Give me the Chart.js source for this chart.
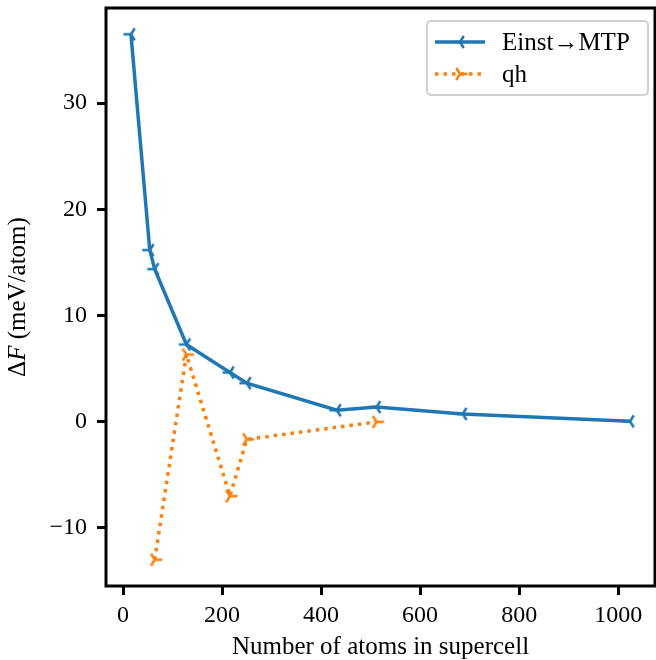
<!DOCTYPE html>
<html>
<head>
<meta charset="utf-8">
<script src="https://cdn.jsdelivr.net/npm/chart.js@4.4.1/dist/chart.umd.min.js"></script>
<style>
  html, body { margin: 0; padding: 0; background: #fff; }
  canvas { display: block; }
</style>
</head>
<body>
<canvas id="chart" width="656" height="660"></canvas>
<script>
// data
const atomsEinst = [16, 54, 64, 128, 216, 250, 432, 512, 686, 1024];
const dFEinst = [36.5, 16.15, 14.35, 7.25, 4.6, 3.6, 1.05, 1.35, 0.7, 0.0];
const atomsQh = [64, 128, 216, 250, 512];
const dFQh = [-13.05, 6.3, -7.05, -1.7, -0.05];
const xTicks = [0, 200, 400, 600, 800, 1000];
const yTicks = [-10, 0, 10, 20, 30];

const BLUE = "#1f77b4";
const ORANGE = "#ff7f0e";
const FONT = "'Liberation Serif', 'DejaVu Serif', serif";

// matplotlib-like 5% margins
function padRange(vals) {
  const lo = Math.min(...vals), hi = Math.max(...vals);
  const m = (hi - lo) * 0.05;
  return [lo - m, hi + m];
}
const [xMin, xMax] = padRange(atomsEinst.concat(atomsQh));
const [yMin, yMax] = padRange(dFEinst.concat(dFQh));

// tri_left / tri_right markers
function triMarker(color, dir) {
  const c = document.createElement("canvas");
  c.width = 22; c.height = 22;
  const g = c.getContext("2d");
  const r = 7.5;
  const arms = [[dir, 0], [-0.5 * dir, -0.8], [-0.5 * dir, 0.8]];
  g.strokeStyle = color;
  g.lineWidth = 2.5;
  g.lineCap = "butt";
  g.beginPath();
  arms.forEach(a => {
    g.moveTo(11, 11);
    g.lineTo(11 + a[0] * r, 11 + a[1] * r);
  });
  g.stroke();
  return c;
}
const markLeft = triMarker(BLUE, -1);
const markRight = triMarker(ORANGE, 1);

function fmt(v) {
  return v < 0 ? "\u2212" + Math.abs(v) : String(v);
}

function noPad(s) {
  s.paddingTop = 0; s.paddingBottom = 0; s.paddingLeft = 0; s.paddingRight = 0;
}

const framePlugin = {
  id: "frame",
  afterDraw(chart) {
    const ctx = chart.ctx;
    const a = chart.chartArea;
    ctx.save();
    ctx.strokeStyle = "#000";
    ctx.lineWidth = 3;
    ctx.strokeRect(a.left, a.top, a.right - a.left, a.bottom - a.top);

    // legend
    const bx = 427, by = 21, bw = 221, bh = 74;
    ctx.beginPath();
    ctx.roundRect(bx, by, bw, bh, 4);
    ctx.fillStyle = "rgba(255,255,255,0.8)";
    ctx.fill();
    ctx.strokeStyle = "#d0d0d0";
    ctx.lineWidth = 2;
    ctx.stroke();

    const rows = [
      { label: "Einst\u2192MTP", color: BLUE, dash: [], mark: markLeft, y: 42 },
      { label: "qh", color: ORANGE, dash: [3.5, 5], mark: markRight, y: 74 }
    ];
    rows.forEach(r => {
      ctx.beginPath();
      ctx.setLineDash(r.dash);
      ctx.strokeStyle = r.color;
      ctx.lineWidth = 3.5;
      ctx.moveTo(435, r.y);
      ctx.lineTo(485, r.y);
      ctx.stroke();
      ctx.setLineDash([]);
      ctx.drawImage(r.mark, 460 - 11, r.y - 11);
      ctx.fillStyle = "#000";
      ctx.font = "25px " + FONT;
      ctx.textBaseline = "middle";
      ctx.textAlign = "left";
      ctx.fillText(r.label, 502, r.y + 1);
    });

    // axis titles
    ctx.fillStyle = "#000";
    ctx.font = "25px " + FONT;
    ctx.textAlign = "center";
    ctx.textBaseline = "alphabetic";
    ctx.fillText("Number of atoms in supercell", (a.left + a.right) / 2, 654);

    ctx.translate(18, (a.top + a.bottom) / 2);
    ctx.rotate(-Math.PI / 2);
    const parts = [
      ["\u0394", "25px " + FONT],
      ["F", "italic 25px " + FONT],
      [" (meV/atom)", "25px " + FONT]
    ];
    let total = 0;
    parts.forEach(p => { ctx.font = p[1]; total += ctx.measureText(p[0]).width; });
    let x = -total / 2;
    ctx.textAlign = "left";
    ctx.textBaseline = "middle";
    parts.forEach(p => {
      ctx.font = p[1];
      ctx.fillText(p[0], x, 0);
      x += ctx.measureText(p[0]).width;
    });
    ctx.restore();
  }
};

const tickFont = { family: FONT, size: 24 };

new Chart(document.getElementById("chart"), {
  type: "line",
  data: {
    datasets: [
      {
        label: "Einst\u2192MTP",
        data: atomsEinst.map((x, i) => ({ x: x, y: dFEinst[i] })),
        borderColor: BLUE,
        backgroundColor: BLUE,
        borderWidth: 3.5,
        pointStyle: markLeft,
        pointRadius: 6,
        tension: 0,
        fill: false
      },
      {
        label: "qh",
        data: atomsQh.map((x, i) => ({ x: x, y: dFQh[i] })),
        borderColor: ORANGE,
        backgroundColor: ORANGE,
        borderWidth: 3.5,
        borderDash: [3.5, 5],
        pointStyle: markRight,
        pointRadius: 6,
        tension: 0,
        fill: false
      }
    ]
  },
  options: {
    responsive: false,
    animation: false,
    devicePixelRatio: 1,
    layout: { autoPadding: false, padding: { left: 0, top: 8, right: 1, bottom: 0 } },
    plugins: {
      legend: { display: false },
      tooltip: { enabled: false }
    },
    scales: {
      x: {
        type: "linear",
        min: xMin,
        max: xMax,
        afterBuildTicks: s => { s.ticks = xTicks.map(v => ({ value: v })); },
        afterFit: s => { s.height = 74; noPad(s); },
        ticks: { color: "#000", font: tickFont, padding: 6, maxRotation: 0, callback: v => fmt(v) },
        grid: { drawOnChartArea: false, drawTicks: true, tickLength: 9, tickWidth: 3, tickColor: "#000" },
        border: { display: false }
      },
      y: {
        type: "linear",
        min: yMin,
        max: yMax,
        afterBuildTicks: s => { s.ticks = yTicks.map(v => ({ value: v })); },
        afterFit: s => { s.width = 106; noPad(s); },
        ticks: { color: "#000", font: tickFont, padding: 10, callback: v => fmt(v) },
        grid: { drawOnChartArea: false, drawTicks: true, tickLength: 9, tickWidth: 3, tickColor: "#000" },
        border: { display: false }
      }
    }
  },
  plugins: [framePlugin]
});
</script>
</body>
</html>
